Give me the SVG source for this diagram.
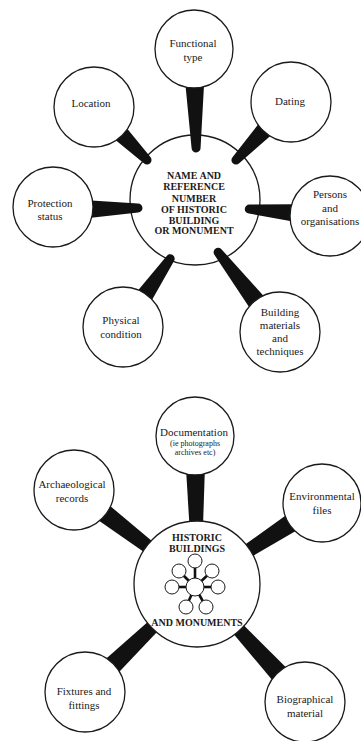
<svg xmlns="http://www.w3.org/2000/svg" width="361" height="741" viewBox="0 0 361 741">
<style>
.c{fill:#fff;stroke:#1a1a1a;stroke-width:1.3}
.t{font-family:"Liberation Serif","Times New Roman",serif;font-size:11px;fill:#1a1a1a;text-anchor:middle}
.s{font-size:8px}
.b{font-weight:bold;font-size:10px}
.k{fill:#111}
.m{stroke:#111;stroke-width:2.6}
.mc{fill:#fff;stroke:#1a1a1a;stroke-width:1}
</style>
<rect width="361" height="741" fill="#fff"/>

<!-- ===== Top diagram ===== -->
<g id="hub-top">
<circle class="c" cx="195" cy="200" r="65"/>
<text class="t b" x="194" y="178.6">NAME AND</text>
<text class="t b" x="194" y="190.2">REFERENCE</text>
<text class="t b" x="194" y="201.8">NUMBER</text>
<text class="t b" x="194" y="212.9">OF HISTORIC</text>
<text class="t b" x="194" y="223.6">BUILDING</text>
<text class="t b" x="194" y="234.3">OR MONUMENT</text>
</g>

<g id="connectors-top" class="k">
<path transform="translate(194,49) rotate(88.8)" d="M0,-12 L99,-4.5 A4.5,4.5 0 0 1 99,4.5 L0,12 Z"/>
<path transform="translate(94,107) rotate(45)" d="M0,-12 L75,-4.5 A4.5,4.5 0 0 1 75,4.5 L0,12 Z"/>
<path transform="translate(291,102) rotate(133.5)" d="M0,-12 L80,-4.5 A4.5,4.5 0 0 1 80,4.5 L0,12 Z"/>
<path transform="translate(330,216) rotate(-175.1)" d="M0,-12 L81,-4.5 A4.5,4.5 0 0 1 81,4.5 L0,12 Z"/>
<path transform="translate(53,210) rotate(-1.35)" d="M0,-12 L85,-4.5 A4.5,4.5 0 0 1 85,4.5 L0,12 Z"/>
<path transform="translate(123,327) rotate(-55.35)" d="M0,-12 L83,-4.5 A4.5,4.5 0 0 1 83,4.5 L0,12 Z"/>
<path transform="translate(280,332) rotate(-127.8)" d="M0,-12 L101,-4.5 A4.5,4.5 0 0 1 101,4.5 L0,12 Z"/>
</g>

<g id="functional-type">
<circle class="c" cx="194" cy="49" r="39"/>
<text class="t" x="193" y="47">Functional</text>
<text class="t" x="193" y="61">type</text>
</g>
<g id="location">
<circle class="c" cx="94" cy="107" r="40"/>
<text class="t" x="91" y="107">Location</text>
</g>
<g id="dating">
<circle class="c" cx="291" cy="102" r="40"/>
<text class="t" x="290" y="105">Dating</text>
</g>
<g id="persons">
<circle class="c" cx="330" cy="216" r="40"/>
<text class="t" x="330" y="198">Persons</text>
<text class="t" x="330" y="211.5">and</text>
<text class="t" x="330" y="225">organisations</text>
</g>
<g id="protection-status">
<circle class="c" cx="53" cy="207" r="40"/>
<text class="t" x="50" y="207">Protection</text>
<text class="t" x="50" y="219.5">status</text>
</g>
<g id="physical-condition">
<circle class="c" cx="123" cy="327" r="40"/>
<text class="t" x="121" y="323.5">Physical</text>
<text class="t" x="121" y="338">condition</text>
</g>
<g id="building-materials">
<circle class="c" cx="280" cy="332" r="40"/>
<text class="t" x="280" y="316">Building</text>
<text class="t" x="280" y="329">materials</text>
<text class="t" x="280" y="342">and</text>
<text class="t" x="280" y="355">techniques</text>
</g>

<!-- ===== Bottom diagram ===== -->
<g id="connectors-bottom" class="k">
<path transform="translate(195,436) rotate(89.2)" d="M0,-11 L148,-4 L148,4 L0,11 Z"/>
<path transform="translate(74,490) rotate(37.4)" d="M0,-11 L155,-4 L155,4 L0,11 Z"/>
<path transform="translate(322,503) rotate(147.1)" d="M0,-11 L149,-4 L149,4 L0,11 Z"/>
<path transform="translate(85,692) rotate(-43.96)" d="M0,-11 L156,-4 L156,4 L0,11 Z"/>
<path transform="translate(305,702) rotate(-132.5)" d="M0,-11 L160,-4 L160,4 L0,11 Z"/>
</g>

<g id="hub-bottom">
<circle class="c" cx="197" cy="584" r="63"/>
<text class="t b" x="197" y="541">HISTORIC</text>
<text class="t b" x="197" y="552">BUILDINGS</text>
<text class="t b" x="197" y="626">AND MONUMENTS</text>
<g id="mini-diagram">
<line class="m" x1="195" y1="587" x2="195" y2="561"/>
<line class="m" x1="195" y1="587" x2="179" y2="571"/>
<line class="m" x1="195" y1="587" x2="212" y2="571"/>
<line class="m" x1="195" y1="587" x2="172" y2="587"/>
<line class="m" x1="195" y1="587" x2="218" y2="587"/>
<line class="m" x1="195" y1="587" x2="186" y2="607"/>
<line class="m" x1="195" y1="587" x2="206" y2="607"/>
<circle class="mc" cx="195" cy="587" r="9"/>
<circle class="mc" cx="195" cy="561" r="7"/>
<circle class="mc" cx="179" cy="571" r="7"/>
<circle class="mc" cx="212" cy="571" r="7"/>
<circle class="mc" cx="172" cy="587" r="7"/>
<circle class="mc" cx="218" cy="587" r="7"/>
<circle class="mc" cx="186" cy="607" r="7"/>
<circle class="mc" cx="206" cy="607" r="7"/>
</g>
</g>

<g id="documentation">
<circle class="c" cx="195" cy="436" r="39"/>
<text class="t" x="194" y="436">Documentation</text>
<text class="t s" x="195" y="446">(ie photographs</text>
<text class="t s" x="195" y="455">archives etc)</text>
</g>
<g id="archaeological-records">
<circle class="c" cx="74" cy="490" r="40"/>
<text class="t" x="72" y="488">Archaeological</text>
<text class="t" x="72" y="502">records</text>
</g>
<g id="environmental-files">
<circle class="c" cx="322" cy="503" r="39"/>
<text class="t" x="322" y="500">Environmental</text>
<text class="t" x="322" y="514">files</text>
</g>
<g id="fixtures-and-fittings">
<circle class="c" cx="85" cy="692" r="40"/>
<text class="t" x="84" y="695">Fixtures and</text>
<text class="t" x="84" y="709">fittings</text>
</g>
<g id="biographical-material">
<circle class="c" cx="305" cy="702" r="40"/>
<text class="t" x="305" y="703">Biographical</text>
<text class="t" x="305" y="717">material</text>
</g>
</svg>
